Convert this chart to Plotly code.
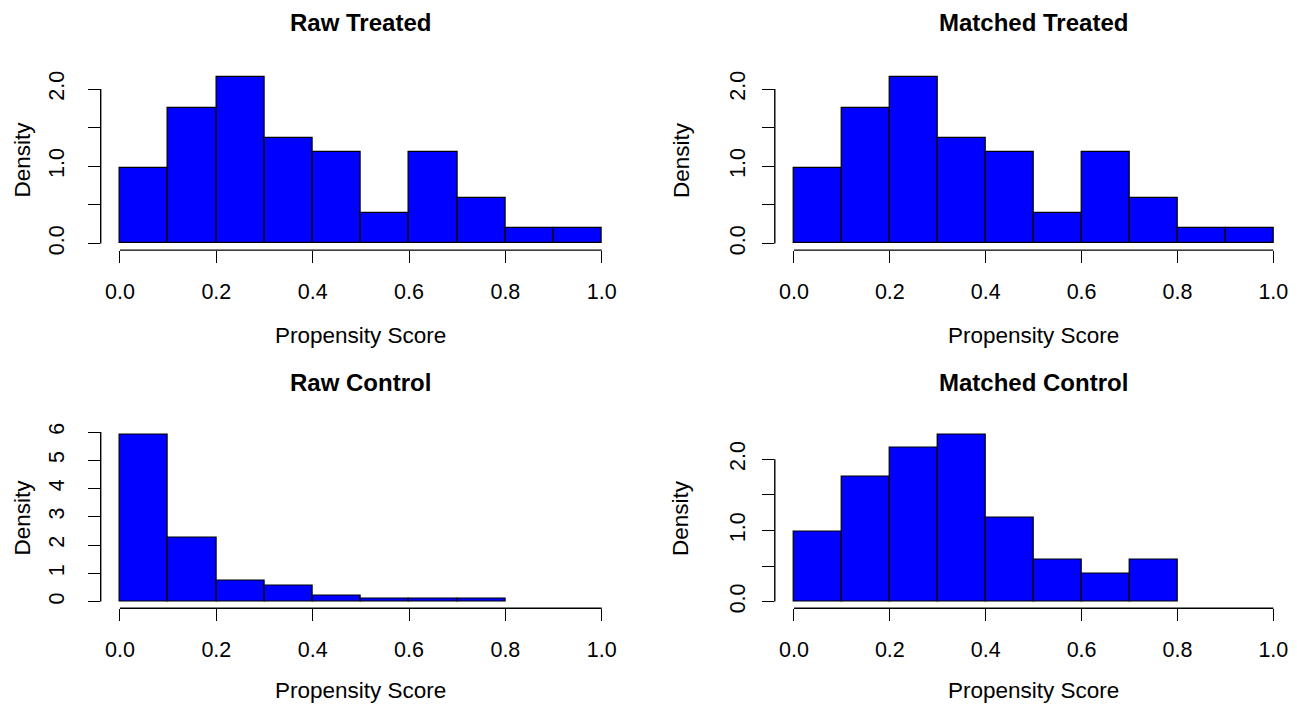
import plotly.graph_objects as go

# ---- data (densities per 0.1-wide bin) ----
bin_width = 0.1
bin_lefts_full = [0.0, 0.1, 0.2, 0.3, 0.4, 0.5, 0.6, 0.7, 0.8, 0.9]
bin_lefts_short = [0.0, 0.1, 0.2, 0.3, 0.4, 0.5, 0.6, 0.7]

raw_treated = [0.98, 1.76, 2.16, 1.37, 1.18, 0.39, 1.18, 0.59, 0.20, 0.20]
matched_treated = [0.98, 1.76, 2.16, 1.37, 1.18, 0.39, 1.18, 0.59, 0.20, 0.20]
raw_control = [5.92, 2.28, 0.75, 0.58, 0.20, 0.09, 0.09, 0.09]
matched_control = [0.98, 1.76, 2.16, 2.35, 1.18, 0.59, 0.39, 0.59]

titles = ["Raw Treated", "Matched Treated", "Raw Control", "Matched Control"]
x_title = "Propensity Score"
y_title = "Density"

x_ticks = [0.0, 0.2, 0.4, 0.6, 0.8, 1.0]
x_tick_labels = ["0.0", "0.2", "0.4", "0.6", "0.8", "1.0"]
y_ticks_half = [0.0, 0.5, 1.0, 1.5, 2.0]
y_tick_labels_half = ["0.0", "", "1.0", "", "2.0"]
y_ticks_int = [0, 1, 2, 3, 4, 5, 6]
y_tick_labels_int = ["0", "1", "2", "3", "4", "5", "6"]

panels = [
    dict(lefts=bin_lefts_full, vals=raw_treated, yt=y_ticks_half, ytl=y_tick_labels_half),
    dict(lefts=bin_lefts_full, vals=matched_treated, yt=y_ticks_half, ytl=y_tick_labels_half),
    dict(lefts=bin_lefts_short, vals=raw_control, yt=y_ticks_int, ytl=y_tick_labels_int),
    dict(lefts=bin_lefts_short, vals=matched_control, yt=y_ticks_half, ytl=y_tick_labels_half),
]

# ---- layout geometry (pixels, page coords; page body has an 8px margin) ----
W, H = 1297, 712
OFF = 8
col_px = [(100.7, 621.0), (774.8, 1292.5)]
row_px = [(65.8, 248.5), (428.5, 611.8)]
title_y_px = [18, 383]
xtitle_y_px = [335, 695]
ytitle_x_px = [19, 681]
ytick_standoff = [15, 8]

FONT = "Liberation Sans, Arial, Helvetica, sans-serif"

fig = go.Figure()
layout = dict(
    width=W, height=H, margin=dict(l=0, r=0, t=0, b=0),
    paper_bgcolor="white", plot_bgcolor="white", showlegend=False,
    font=dict(family=FONT, color="black"),
    bargap=0,
)
annotations = []
shapes = []

for i, p in enumerate(panels):
    r, c = divmod(i, 2)
    n = i + 1
    xa = "xaxis" if n == 1 else f"xaxis{n}"
    ya = "yaxis" if n == 1 else f"yaxis{n}"
    xr = "x" if n == 1 else f"x{n}"
    yr = "y" if n == 1 else f"y{n}"

    centers = [l + bin_width / 2 for l in p["lefts"]]
    fig.add_trace(go.Bar(
        x=centers, y=p["vals"], width=[bin_width] * len(centers),
        marker=dict(color="#0000FF", line=dict(color="black", width=1.2)),
        xaxis=xr, yaxis=yr, hoverinfo="x+y",
    ))

    ymax = max(p["vals"])
    x0, x1 = col_px[c][0] - OFF, col_px[c][1] - OFF
    y0, y1 = row_px[r][0] - OFF, row_px[r][1] - OFF
    layout[xa] = dict(
        domain=[x0 / W, x1 / W], range=[-0.04, 1.04], anchor=yr,
        showgrid=False, zeroline=False, showline=False,
        ticks="outside", ticklen=12, tickwidth=1.4, tickcolor="black",
        tickvals=x_ticks, ticktext=x_tick_labels,
        tickfont=dict(size=21.5, family=FONT, color="black"),
        ticklabelstandoff=10, fixedrange=True,
    )
    layout[ya] = dict(
        domain=[1 - y1 / H, 1 - y0 / H], range=[-0.04 * ymax, 1.04 * ymax], anchor=xr,
        showgrid=False, zeroline=False, showline=False,
        ticks="outside", ticklen=12, tickwidth=1.4, tickcolor="black",
        tickvals=p["yt"], ticktext=p["ytl"], tickangle=-90,
        tickfont=dict(size=21.5, family=FONT, color="black"),
        ticklabelstandoff=ytick_standoff[c], fixedrange=True,
    )
    # R-style axis lines spanning the tick range only
    shapes.append(dict(type="line", xref=xr, yref=f"{yr} domain",
                       x0=x_ticks[0], x1=x_ticks[-1], y0=0, y1=0,
                       line=dict(color="black", width=1.4)))
    shapes.append(dict(type="line", xref=f"{xr} domain", yref=yr,
                       x0=0, x1=0, y0=p["yt"][0], y1=p["yt"][-1],
                       line=dict(color="black", width=1.4)))

    annotations.append(dict(text=f"<b>{titles[i]}</b>", xref=f"{xr} domain", x=0.5,
                            yref="paper", y=1 - (title_y_px[r] - OFF) / H,
                            xanchor="center", yanchor="middle", showarrow=False,
                            font=dict(size=24, family=FONT, color="black")))
    annotations.append(dict(text=x_title, xref=f"{xr} domain", x=0.5,
                            yref="paper", y=1 - (xtitle_y_px[r] - OFF) / H,
                            xanchor="center", yanchor="middle", showarrow=False,
                            font=dict(size=22.5, family=FONT, color="black")))
    if c == 0:
        annotations.append(dict(text=y_title, xref="paper", x=0,
                                yref=f"{yr} domain", y=0.5, textangle=-90,
                                xanchor="left", yanchor="middle", showarrow=False,
                                font=dict(size=22.5, family=FONT, color="black")))
    else:
        annotations.append(dict(text=y_title, xref="paper", x=(ytitle_x_px[c] - OFF) / W,
                                yref=f"{yr} domain", y=0.5, textangle=-90,
                                xanchor="center", yanchor="middle", showarrow=False,
                                font=dict(size=22.5, family=FONT, color="black")))

layout["annotations"] = annotations
layout["shapes"] = shapes
fig.update_layout(**layout)
fig.write_html("out.html")
